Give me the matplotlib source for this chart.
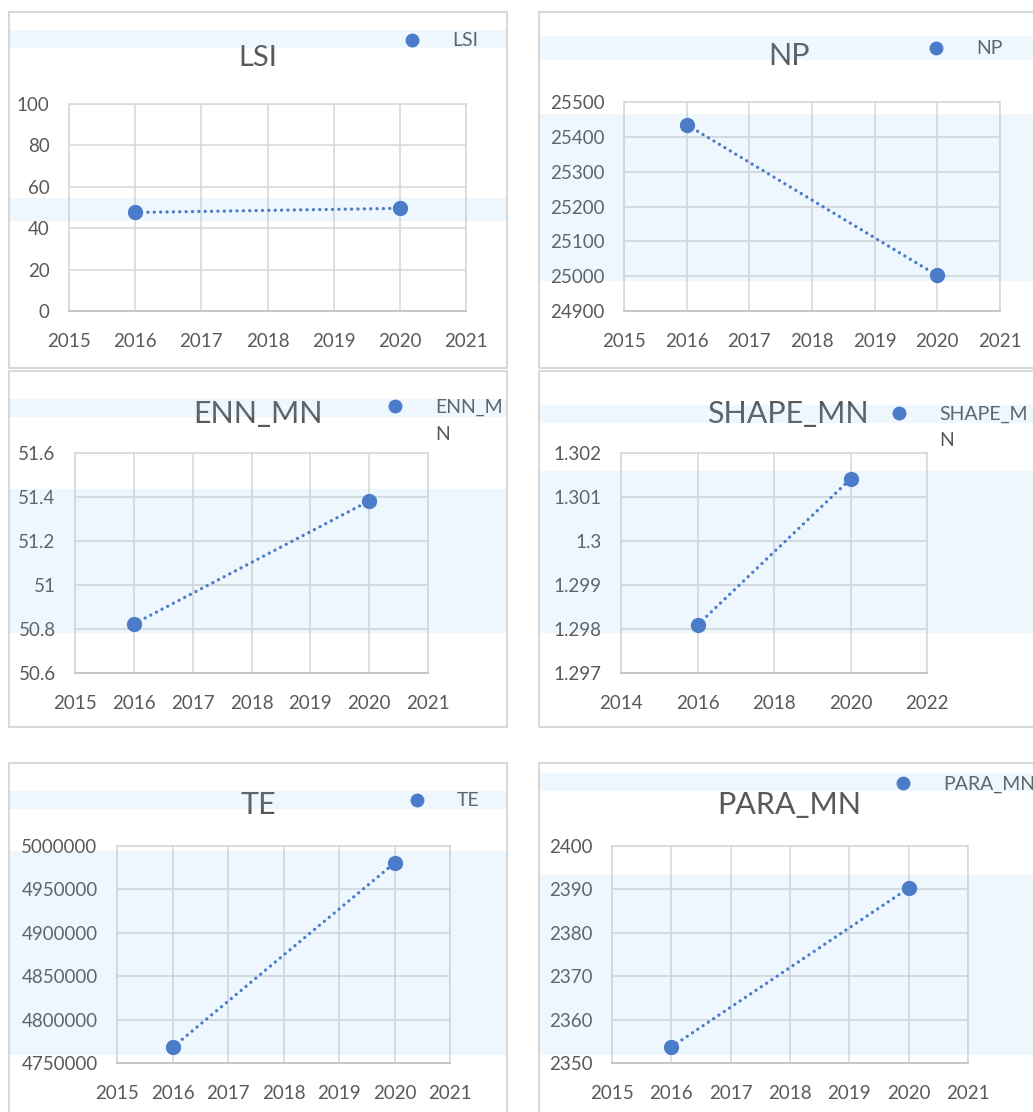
import matplotlib.pyplot as plt
from matplotlib.patches import Rectangle
from matplotlib.lines import Line2D

# data
years = [2016, 2020]
lsi = [47.6, 49.6]
np_vals = [25435, 25002]
enn_mn = [50.823, 51.382]
shape_mn = [1.29809, 1.30141]
te = [4768000, 4980400]
para_mn = [2353.7, 2390.3]

titles = ["LSI", "NP", "ENN_MN", "SHAPE_MN", "TE", "PARA_MN"]
# legend labels wrap in the original, first line next to the marker
legend_labels = [["LSI"], ["NP"], ["ENN_M", "N"], ["SHAPE_M", "N"], ["TE"], ["PARA_MN"]]
series = [lsi, np_vals, enn_mn, shape_mn, te, para_mn]

y_ticks = [
    [0, 20, 40, 60, 80, 100],
    [24900, 25000, 25100, 25200, 25300, 25400, 25500],
    [50.6, 50.8, 51.0, 51.2, 51.4, 51.6],
    [1.297, 1.298, 1.299, 1.300, 1.301, 1.302],
    [4750000, 4800000, 4850000, 4900000, 4950000, 5000000],
    [2350, 2360, 2370, 2380, 2390, 2400],
]
y_ticklabels = [
    ["0", "20", "40", "60", "80", "100"],
    ["24900", "25000", "25100", "25200", "25300", "25400", "25500"],
    ["50.6", "50.8", "51", "51.2", "51.4", "51.6"],
    ["1.297", "1.298", "1.299", "1.3", "1.301", "1.302"],
    ["4750000", "4800000", "4850000", "4900000", "4950000", "5000000"],
    ["2350", "2360", "2370", "2380", "2390", "2400"],
]
x_ticks = [
    list(range(2015, 2022)),
    list(range(2015, 2022)),
    list(range(2015, 2022)),
    [2014, 2016, 2018, 2020, 2022],
    list(range(2015, 2022)),
    list(range(2015, 2022)),
]

# layout in pixels: plot box (l, t, r, b), title centre, legend marker centre,
# panel border (l, t, r, b), highlight bands (t, b)
W, H = 1033, 1112
plot_box = [(69, 104, 466, 311), (624, 102, 1000, 311),
            (75, 453, 428, 673), (621, 453, 927, 673),
            (117, 846, 450, 1063), (612, 846, 968, 1063)]
title_xy = [(258, 58, 21), (789, 56, 22), (258, 414, 22),
            (788, 414, 22), (258, 805, 22), (789, 805, 22)]
legend_xy = [(412, 41), (936, 49), (395, 407), (899, 414), (417, 801), (903, 784)]
borders = [(9, 12, 507, 368), (539, 12, 1045, 368),
           (9, 371, 507, 727), (539, 371, 1045, 727),
           (9, 763, 507, 1125), (539, 763, 1045, 1125)]
bands = [[(30, 48), (198, 221)], [(36, 60), (114, 281)],
         [(399, 417), (489, 633)], [(405, 423), (471, 633)],
         [(791, 809), (851, 1055)], [(773, 791), (875, 1055)]]

blue = '#4472C4'
grey_txt = '#595959'
grid_c = '#D9D9D9'
leg_fs = 14

plt.rcParams['font.family'] = ['Lato', 'DejaVu Sans']

fig = plt.figure(figsize=(W / 100, H / 100), dpi=100)
fig.patch.set_facecolor('white')

for i in range(6):
    l, t, r, b = plot_box[i]
    ax = fig.add_axes([l / W, 1 - b / H, (r - l) / W, (b - t) / H])
    ax.plot(years, series[i], color=blue, ls=(0, (0.01, 1.9)), lw=2.4,
            dash_capstyle='round', zorder=3)
    ax.plot(years, series[i], color=blue, ls='none', marker='o', ms=10, zorder=4)
    ax.set_xticks(x_ticks[i])
    ax.set_xlim(x_ticks[i][0], x_ticks[i][-1])
    ax.set_yticks(y_ticks[i])
    ax.set_yticklabels(y_ticklabels[i])
    ax.set_ylim(y_ticks[i][0], y_ticks[i][-1])
    ax.grid(True, color=grid_c, lw=1.2)
    ax.tick_params(axis='y', length=0, labelsize=13.5, labelcolor=grey_txt, pad=14)
    ax.tick_params(axis='x', length=0, labelsize=13.5, labelcolor=grey_txt, pad=16)
    for s in ax.spines.values():
        s.set_color(grid_c)
        s.set_linewidth(1.2)
    ax.spines['bottom'].set_color('#BFBFBF')
    ax.set_axisbelow(True)

    tx, ty, ts = title_xy[i]
    fig.text(tx / W, 1 - ty / H, titles[i], ha='center', va='center',
             fontsize=ts, color=grey_txt)

    # legend: marker + first line, extra lines as plain text below
    mx, my = legend_xy[i]
    handle = Line2D([], [], color=blue, marker='o', ls='none', ms=9)
    ax.legend([handle], [legend_labels[i][0]], loc='center left',
              bbox_to_anchor=((mx - 8.75) / W, 1 - my / H),
              bbox_transform=fig.transFigure, frameon=False,
              borderpad=0, borderaxespad=0, handlelength=0.9,
              handletextpad=1.61, fontsize=leg_fs, labelcolor=grey_txt)
    for k, extra in enumerate(legend_labels[i][1:], start=1):
        fig.text((mx + 40) / W, 1 - (my + 27 * k) / H, extra, ha='left',
                 va='center', fontsize=leg_fs, color=grey_txt)

    bl, bt, br, bb = borders[i]
    fig.add_artist(Rectangle((bl / W, 1 - bb / H), (br - bl) / W, (bb - bt) / H,
                             transform=fig.transFigure, fill=False,
                             edgecolor=grid_c, lw=1.5, zorder=1))
    for (y0, y1) in bands[i]:
        fig.add_artist(Rectangle((bl / W, 1 - y1 / H), (br - bl) / W, (y1 - y0) / H,
                                 transform=fig.transFigure, facecolor='#82C5F7',
                                 edgecolor='none', alpha=0.12, zorder=10))

fig.savefig('out.png', dpi=100)
